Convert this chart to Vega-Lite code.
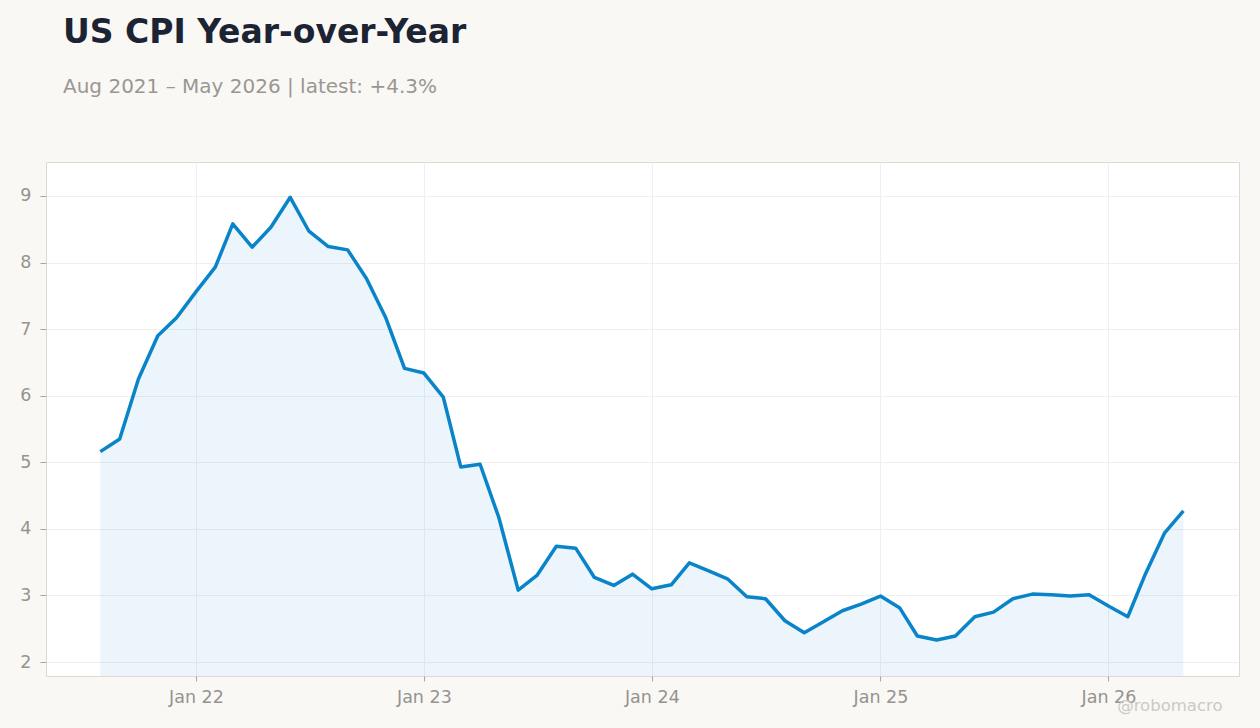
{
  "$schema": "https://vega.github.io/schema/vega-lite/v6.json",
  "width": 1193,
  "height": 514,
  "autosize": {"type": "none"},
  "padding": {"left": 46, "top": 162, "right": 21, "bottom": 52},
  "background": "#f9f8f5",
  "config": {
    "font": "DejaVu Sans",
    "view": {"stroke": "#ddd8d0", "strokeWidth": 1, "fill": "white"},
    "axis": {
      "labelColor": "#96938e",
      "labelFontSize": 17.5,
      "labelFont": "DejaVu Sans",
      "gridColor": "#efefef",
      "gridWidth": 1,
      "tickColor": "#a8a5a0",
      "domain": false
    }
  },
  "title": {
    "text": "US CPI Year-over-Year",
    "subtitle": "Aug 2021 \u2013 May 2026 | latest: +4.3%",
    "anchor": "start",
    "frame": "group",
    "dx": 17,
    "fontSize": 33,
    "fontWeight": "bold",
    "color": "#1c2333",
    "subtitleFontSize": 20,
    "subtitleColor": "#9a9792",
    "subtitlePadding": 27,
    "offset": 65
  },
  "data": {
    "values": [
      {"date": "2021-08-01", "cpi": 5.16},
      {"date": "2021-09-01", "cpi": 5.35},
      {"date": "2021-10-01", "cpi": 6.25},
      {"date": "2021-11-01", "cpi": 6.90},
      {"date": "2021-12-01", "cpi": 7.17},
      {"date": "2022-01-01", "cpi": 7.56},
      {"date": "2022-02-01", "cpi": 7.93},
      {"date": "2022-03-01", "cpi": 8.58},
      {"date": "2022-04-01", "cpi": 8.23},
      {"date": "2022-05-01", "cpi": 8.53},
      {"date": "2022-06-01", "cpi": 8.98},
      {"date": "2022-07-01", "cpi": 8.47},
      {"date": "2022-08-01", "cpi": 8.24},
      {"date": "2022-09-01", "cpi": 8.19},
      {"date": "2022-10-01", "cpi": 7.76},
      {"date": "2022-11-01", "cpi": 7.17},
      {"date": "2022-12-01", "cpi": 6.41},
      {"date": "2023-01-01", "cpi": 6.34},
      {"date": "2023-02-01", "cpi": 5.98},
      {"date": "2023-03-01", "cpi": 4.93},
      {"date": "2023-04-01", "cpi": 4.97},
      {"date": "2023-05-01", "cpi": 4.17},
      {"date": "2023-06-01", "cpi": 3.08},
      {"date": "2023-07-01", "cpi": 3.30},
      {"date": "2023-08-01", "cpi": 3.74},
      {"date": "2023-09-01", "cpi": 3.71},
      {"date": "2023-10-01", "cpi": 3.27},
      {"date": "2023-11-01", "cpi": 3.15},
      {"date": "2023-12-01", "cpi": 3.32},
      {"date": "2024-01-01", "cpi": 3.10},
      {"date": "2024-02-01", "cpi": 3.16},
      {"date": "2024-03-01", "cpi": 3.49},
      {"date": "2024-04-01", "cpi": 3.37},
      {"date": "2024-05-01", "cpi": 3.25},
      {"date": "2024-06-01", "cpi": 2.98},
      {"date": "2024-07-01", "cpi": 2.95},
      {"date": "2024-08-01", "cpi": 2.62},
      {"date": "2024-09-01", "cpi": 2.44},
      {"date": "2024-10-01", "cpi": 2.60},
      {"date": "2024-11-01", "cpi": 2.77},
      {"date": "2024-12-01", "cpi": 2.87},
      {"date": "2025-01-01", "cpi": 2.99},
      {"date": "2025-02-01", "cpi": 2.81},
      {"date": "2025-03-01", "cpi": 2.39},
      {"date": "2025-04-01", "cpi": 2.33},
      {"date": "2025-05-01", "cpi": 2.39},
      {"date": "2025-06-01", "cpi": 2.68},
      {"date": "2025-07-01", "cpi": 2.75},
      {"date": "2025-08-01", "cpi": 2.95},
      {"date": "2025-09-01", "cpi": 3.02},
      {"date": "2025-10-01", "cpi": 3.01},
      {"date": "2025-11-01", "cpi": 2.99},
      {"date": "2025-12-01", "cpi": 3.01},
      {"date": "2026-01-01", "cpi": 2.84},
      {"date": "2026-02-01", "cpi": 2.68},
      {"date": "2026-03-01", "cpi": 3.32},
      {"date": "2026-04-01", "cpi": 3.94},
      {"date": "2026-05-01", "cpi": 4.27}
    ]
  },
  "encoding": {
    "x": {
      "field": "date",
      "type": "temporal",
      "scale": {
        "type": "utc",
        "domain": [
          {"year": 2021, "month": 5, "date": 6, "utc": true},
          {"year": 2026, "month": 7, "date": 29, "utc": true}
        ]
      },
      "axis": {
        "title": "@robomacro",
        "titleColor": "#cccac6",
        "titleFontSize": 16.5,
        "titleFontWeight": "normal",
        "titleAlign": "right",
        "titleAnchor": "end",
        "titleBaseline": "alphabetic",
        "titleX": 1176,
        "titleY": 34,
        "labelExpr": "utcFormat(datum.value, '%b %y')",
        "tickCount": {"interval": "year", "step": 1},
        "tickSize": 5,
        "labelPadding": 7
      }
    },
    "y": {
      "field": "cpi",
      "type": "quantitative",
      "scale": {"domain": [1.79, 9.51], "zero": false, "nice": false},
      "axis": {
        "title": null,
        "values": [2, 3, 4, 5, 6, 7, 8, 9],
        "tickSize": 6,
        "labelPadding": 9
      }
    }
  },
  "layer": [
    {
      "mark": {"type": "area", "color": "#0a84c8", "opacity": 0.08, "clip": true}
    },
    {
      "mark": {"type": "line", "color": "#0a84c8", "strokeWidth": 3.5, "strokeJoin": "round"}
    }
  ]
}
